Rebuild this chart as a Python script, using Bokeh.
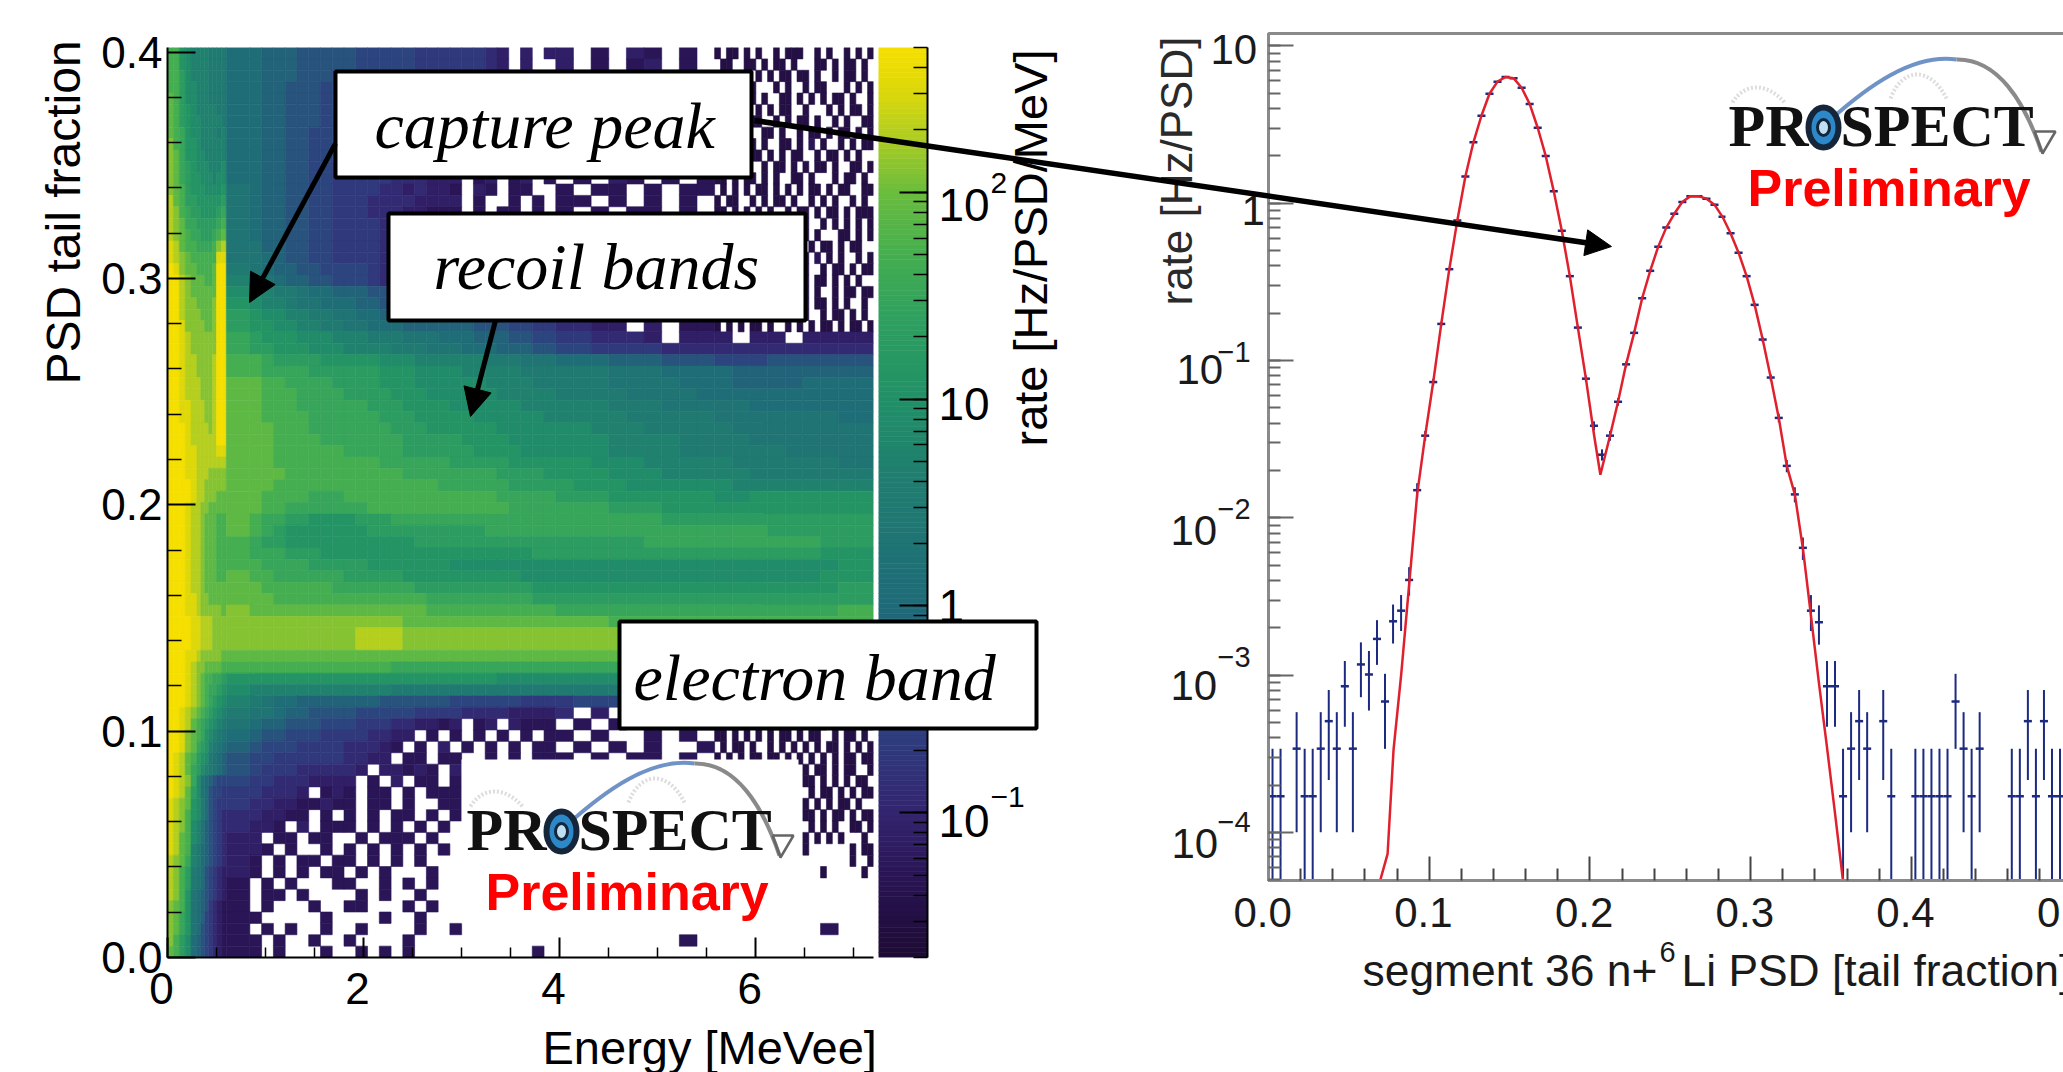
import math
from bokeh.embed import file_html
from bokeh.resources import INLINE
from bokeh.plotting import figure
from bokeh.models import (GridBox, ColumnDataSource, LogColorMapper, FixedTicker, LogTicker, Arrow,
                          NormalHead, NumeralTickFormatter, CustomJSTickFormatter)
from bokeh.core.properties import value

# ---------- heat map: levels, one row per PSD bin, top row first ----------
# '.' = empty bin; 0-9,a-m = colour level (log10 rate = -1.7 + 0.2*level)
energy_edges = [0.0, 0.06, 0.12, 0.18, 0.24, 0.30, 0.34, 0.38, 0.42, 0.46, 0.50, 0.55, 0.60,
                0.84, 0.96, 1.08, 1.20, 1.32, 1.44, 1.56, 1.68, 1.80,
                1.92, 2.04, 2.16, 2.28, 2.40, 2.52, 2.64, 2.76, 2.88,
                3.00, 3.12, 3.24, 3.36, 3.48, 3.60, 3.72, 3.84, 3.96,
                4.14, 4.32, 4.50, 4.68, 4.86, 5.04, 5.22, 5.40, 5.58,
                5.76, 5.94, 6.12, 6.30, 6.48, 6.66, 6.84, 7.02, 7.20]
psd_row_height = 0.005025
heat_rows = [
"hhedccccbbbb 998887777 766666555 55543.3.3 3.2.32.2. .2.22.2.2",
"hhedccccbbbb 998887777 766666555 55543.3.. 3.2.23.2. 2.2.2.2..",
"hhfdccccbbbb 998887776 666555555 444433322 22222222. .2.2.22.2",
"hhfddcccbbbb 998877766 666555555 444433322 22222222. 2.2..2.2.",
"ihfddcccbbbb 998877766 666555555 444433322 222222222 .22.2.2.2",
"ihfedcccccbb 998877766 666555555 444433322 22222222. 2..22.2.2",
"ihfeddcccccb 998877766 665555555 444433322 222222222 .2.2.2.22",
"ihgeddccccbc 998877666 665555555 444433322 22222222. 22.2.2..2",
"jhgeedcccccc 998877666 655555555 444433322 222222222 2.2.22.2.",
"jigeeddccccc 998877666 555555555 444433322 22222222. .22.2.2.2",
"jigfedddcccd 998877665 555555555 444433322 222222222 2.2.2.22.",
"jigfeedddcdd 998877665 555544433 3.23.23.2 .2.32.2.2 .22.2.2.2",
"jihfeeedddde a98877665 555443433 2.32.22.. 2.22.2.22 .2.22..2.",
"kihffeeeeeef a98877665 554444333 3.2..2.2. 22.2.2.2. 2.2.2.22.",
"kjhgffeeeefg a98877665 554443322 2.2.22.2. 2.2.22.2. .22.2.2.2",
"kjiggfffffgh a98877665 555443322 222222222 222222222 22.2.2.22",
"kjihggfffghi a98877665 555443322 222222222 222222222 2.22.2.2.",
"lkihhgggghjk aa8877665 555443322 222222222 222222222 .22.2.2.2",
"lkjihhhhhhll aa9877665 555443322 222222222 222222222 22.2.22..",
"mljiihhhhimm ba9887766 665443322 222222222 222222222 .2.22.2.2",
"mmkjiiihhimm cba988776 665443322 222222222 222222222 2.2.2.2.2",
"mmkjiiiiiimm dccbba998 887776665 222222222 222222222 22.2..22.",
"mmkjjiiiijmm edccbaa99 988777666 222222222 222222222 .2.22.2.2",
"mmkjjjiiijmm feddccbba a99887766 222222222 222222222 2.2.2.22.",
"mmljjjjiijmm feeddccbb aa9998888 887776655 4433.3.22 222222222",
"mmlkjjjjjjmm gfeeedddc ccbbbaaa9 998887766 554443.33 3.33.3333",
"mmlkjjjjjjmm gffeeeddd ccccbbbaa a99988877 665555444 444444444",
"mmlkkjjjjkmm hhgffffee eeedddccc cccbbbaaa 999888777 666777777",
"mmlkkjjjjkmm hhggggfff fffeeeddd dcccccbbb bbbaaa999 988888888",
"mmlkkkjjjkmm iihhggggf fffeeeddd dddccccbb bbbaaaa99 988889999",
"mmlkkkjjjkmm iihhhgggg ffffeeedd ddddccccc bbbbaaaa9 999999999",
"mmllkkkjjkmm iihhhgggg ggfffeeee ddddddccc cccbbbaaa aa9999999",
"mmllkkkjjkmm iihhhhggg gggfffeee eeddddddc ccccbbbbb aaaaaaa99",
"mmmlkkkkjkmm iiihhhggg ggggfffee eeeeddddd ddcccbbbb baaaaaaaa",
"mmmlkkkkkkmm iiihhhhgg gggggffff feeeedddd dddccccbb bbaaaaaaa",
"mmmllkkkkkll iiihhhhhh gggggffff ffeeeeddd dddccccbb bbbbaaaaa",
"mmmllkkkkkkk iiihhhhhh hhhgggggg fffffeeee eedddcccc cbbbbbbaa",
"mmmllkkkjjjj iiiihhhhh hhhhhgggg ggggffffe eeedddccc ccbbbbbbb",
"mmmmlkkjjjjj iiihhhhhh hhhhhhhhg gggggffff feeeddddd dcccccccc",
"mmmmlkkjjjii iihhhhggg hhhhhhhhh hhhhggggg fffeeeeee ddeeeeeee",
"mmmlkkjjiiii iihhggggg gghhhhhhh hhhhhgggg gggfffeee eeeeeeeee",
"mmmlkkjiiihh ihggffeee efffggggg ggggggggg ggggggfff fffffffff",
"mmmlkkjiiihh ihgfeeeee eefffffff fffgggggg ggggggggg gggffffff",
"mmmlkkjiiihh hgffeeeee eeeeeefff fffffffff fffffgggg ggggggfff",
"mmmlkkjiiihh hgggfffee eeeeeeeee eeeeeeeff fffffffff ffffffeee",
"mmmlkkjiiihh hhggggfff ffeeeeeee ddddddddd ddddddddd dddddddee",
"mmmlkkjiiihh ihhgggggg fffffeeee eeeeeeddd ddddddddd ddddddeee",
"mmmlkkjiiiii iihhhhhhg ggggggfff fffffffee eeeeeeeee eeeeeeeff",
"mmmllkjjiiii iiihhhhhh hhhhhhhgg gggggggff fffffffff fffffffff",
"mmmllkjjjjji jiiiiiiii iiiiiiihh hhhhhhhhh ggggggggg ggggggghh",
"mmmmllkkkjjj jjjjjjjjj jjjjjiiii iiiiiiiii iiihhhhhh hhhhhhhhh",
"mmmmllkkkjjj jjjjjjjjj jkkkkjjjj jjjjjjjjj jjjjjjjji iiiiiiiii",
"mmmmllkkkjjj jjjjjjjjj jkkkkjjjj jjjjjjjjj jjjjjjjjj jjjjjjjjj",
"mmmllkjjjjji iiiiiiiii iiiiiiiii iiiiiiiii iiiiiiiii iiiiiiiii",
"mmmlkjjiiiih hhhhhhhhh hhhhggggg ggggggggg ggggggggg ggggggggg",
"mmmlkjihhggf eeeeeeeee eeeeeeeee eeeeddddd ddddddddd ddddddddd",
"mmmlkjihggfe dcccccccc ccccbbbbb bbbbbbbbb bbbbbbbbb bbbbbbbbb",
"mmmlkjihgfed cba998888 888777777 666666555 566666666 666666666",
"mmlkjihgfedc baa988777 766666555 544443333 4.3.34334 4344443.3",
"mmlkihgfedcb a98877766 655544332 3.23.3222 .2.2.2.23 2.32.32.2",
"mmljihgedcba 987766655 554433.2. 2.2.2.2.2 2.2..2.2. 2.2.22.2.",
"mmljigfecba9 876665555 44432.2.3 .2.2.2.22 .2.2.2..2 .2.22.2..",
"mlkihfedba98 766555555 4433.22.2 2..2.2.22 2.2.22.2. 2.2.2.22.",
"mlkigfdcba98 765554444 43.33232. 3........ ......... ...22.2.2",
"mlkjgda98766 655444333 3.2.3.22. 2........ ......... ...2.22.2",
"mlkifda97665 554443.23 2.22.2.22 2........ ......... ...22.2.2",
"lkjiedb97655 544332232 2.22.2..2 2........ ......... ...2.22.2",
"lkjhedb97654 443322.2. 2.2.22.2. 2........ ......... ...2.2.22",
"lkjhdca87654 4332.3.22 2.2.2.2.2 ......... ......... ...2.2.22",
"lkihdca87654 33.22.22. .2.222.2. ......... ......... ...22.2..",
"lkihcb987654 332.2..2. 2.2.2.2.2 ......... ......... ...2...22",
"kjigcb987654 32.2.22.2 2.2.2.2.. ......... ......... ......2.2",
"kjhfba976543 32.2.2.22 .2.2...2. ......... ......... ......2..",
"kjhfba976543 2.2.2...2 2..2.2.2. ......... ......... ...2.....",
"kjhea9876543 2.22.2... .2.2..2.. ......... ......... .........",
"jihea9875432 2.2...2.. 22...2.2. ......... ......... .........",
"jigea9865432 22.....2. ...2..2.. ......... ......... .........",
"jigea9765432 2.2.2..2. .2....2.. 2........ ......... ......2..",
"jhfd98765432 22.2..2.. 2....2... ......... .......2. .........",
"ihfd98765432 22.2...2. .2.2.2... .......2. ......... .........",
]
# finer reading of the sparse corner at the upper right, 0.06 MeV bins from 5.58 to 7.20 MeV, rows as in heat_rows
upper_right_rows = [
"1.11.1.1..1.111..1.1..1.1.1",
".11..11.1.11.1...11.1.11.1.",
".1111..1.1.11.11.1..1.11.1.",
"1.1.1.1...1.1..1.11...1.1.1",
"11.1.11.1..11.1.1.1.11.1..1",
"1.1..1.1.1.11..1...1.1.11.1",
".11.1.11..1.1.11.1..1.1..11",
"1.11.1..11.1..1.11.1.11.1.1",
"11..1.1.1..11.1.2.1..1.1.11",
".1.11.11.1.1.11..1.11.1.1..",
"1.1.1...1.11.1.1.11.1..11.1",
"11.1.11.1.1..11.1...1.11.1.",
".1.1.1.11.1.1.1.11.1.11..11",
"1.11..1.1.11.1..1.1.1..1.1.",
"11.1.1.1.1..1.11.1.11.1.111",
"1.1.11.1..11.1.1..1.1.1.1.1",
".11.1..11.1.1.11.1...11.1.1",
"1.1.1.1.1.11.1..1.11.1.11..",
"1..11.1.11.1.1.1.2.1.1..1.1",
".11.1.11..1.1.11..1.11.1.11",
"11.1.1..1.11.1.1.11.1.1.1..",
"1.1.11.1.1.1..11.1..1.11.11",
"11.1..1.1.11.1.1.11.1.1..1.",
".1.11.1.1.1.11.1..1.11.1.1.",
"1.1.1.11.1..1.1.1.11.1.11.1",
]
# same for the sparse band below the electron band, rows 59 to 72 of heat_rows
lower_right_first_row = 59
lower_right_rows = [
"1.1.11.1.11.1.2.1.1.11.1.11",
"11.1.1.1.1.11.1.11..1.11.1.",
".1.11.1..1.1.1.1.1.11.1.1.1",
"1.1.1.11.11.1.1.1.1.1.11.11",
"...............1.11.1.11..1",
"...............11.1.1.1.11.",
"................1.11.1.1.11",
"...............1.1.1.11.1..",
"...............11.1.11.1.11",
"................1.1.1..11.1",
"...............1.1.1.1...1.",
"...............1.......1.11",
".......................1..1",
"..................1......1.",
]
level_digits = "0123456789abcdefghijklm"
cbar_low, cbar_high = 0.02, 500.0

# ---------- PSD projection: points ----------
psd_x = [0.0025, 0.0075, 0.0175, 0.0225, 0.0275, 0.0325, 0.0375, 0.0425, 0.0475, 0.0525, 0.0575, 0.0625, 0.0675,
         0.0725, 0.0775, 0.0825, 0.0875, 0.0925, 0.0975, 0.1025, 0.1075, 0.1125, 0.1175, 0.1225, 0.1275, 0.1325,
         0.1375, 0.1425, 0.1475, 0.1525, 0.1575, 0.1625, 0.1675, 0.1725, 0.1775, 0.1825, 0.1875, 0.1925, 0.1975,
         0.2025, 0.2075, 0.2125, 0.2175, 0.2225, 0.2275, 0.2325, 0.2375, 0.2425, 0.2475, 0.2525, 0.2575, 0.2625,
         0.2675, 0.2725, 0.2775, 0.2825, 0.2875, 0.2925, 0.2975, 0.3025, 0.3075, 0.3125, 0.3175, 0.3225, 0.3275,
         0.3325, 0.3375, 0.3425, 0.3475, 0.3525, 0.3575, 0.3625, 0.3675, 0.3725, 0.3825, 0.3875, 0.4025, 0.4075,
         0.4125, 0.4175, 0.4225, 0.4275, 0.4325, 0.4375, 0.4425, 0.4625, 0.4675, 0.4725, 0.4775, 0.4825, 0.4875,
         0.4925]
psd_rate = [0.00017, 0.00017, 0.000341, 0.00017, 0.00017, 0.000341, 0.00051, 0.000341, 0.00085, 0.000341, 0.00117,
            0.00101, 0.0017, 0.00068, 0.0022, 0.00257, 0.00403, 0.015, 0.0333, 0.073, 0.171, 0.381, 0.778, 1.48, 2.44,
            3.6, 4.97, 5.93, 6.35, 6.24, 5.42, 4.28, 3.02, 2.0, 1.19, 0.668, 0.344, 0.162, 0.0767, 0.0385, 0.0252,
            0.0333, 0.0547, 0.0946, 0.15, 0.249, 0.372, 0.53, 0.7, 0.857, 1.02, 1.11, 1.11, 1.07, 0.98, 0.82, 0.645,
            0.485, 0.344, 0.226, 0.136, 0.078, 0.0432, 0.0214, 0.0141, 0.00645, 0.00257, 0.00217, 0.00085, 0.00085,
            0.00017, 0.000341, 0.00051, 0.000341, 0.00051, 0.00017, 0.00017, 0.00017, 0.00017, 0.00017, 0.00017,
            0.00068, 0.000341, 0.00017, 0.000341, 0.00017, 0.00017, 0.00051, 0.00017, 0.00051, 0.00017, 0.00017]
rate_per_count = 0.00017
fit_x = [0.0696, 0.0741, 0.0778, 0.0826, 0.0881, 0.0925, 0.0975, 0.1025, 0.1075, 0.1125, 0.1175, 0.1225, 0.1275, 0.1325,
         0.1375, 0.1425, 0.1475, 0.1525, 0.1575, 0.1625, 0.1675, 0.1725, 0.1775, 0.1825, 0.1875, 0.1925, 0.1975, 0.2025,
         0.2065, 0.2125, 0.2175, 0.2225, 0.2275, 0.2325, 0.2375, 0.2425, 0.2475, 0.2525, 0.2575, 0.2625, 0.2675, 0.2725,
         0.2775, 0.2825, 0.2875, 0.2925, 0.2975, 0.3025, 0.3075, 0.3125, 0.3175, 0.3225, 0.3275, 0.3326, 0.3374, 0.3425,
         0.3474, 0.3526, 0.3574]
fit_rate = [5e-05, 7.3e-05, 0.000335, 0.00102, 0.0044, 0.0141, 0.0333, 0.073, 0.171, 0.381, 0.778, 1.48, 2.44, 3.6,
            4.97, 5.93, 6.35, 6.24, 5.42, 4.28, 3.02, 2.0, 1.19, 0.668, 0.344, 0.162, 0.0767, 0.034, 0.0188, 0.0333,
            0.0547, 0.0946, 0.15, 0.249, 0.372, 0.53, 0.7, 0.857, 1.02, 1.11, 1.11, 1.07, 0.98, 0.82, 0.645, 0.485,
            0.344, 0.226, 0.136, 0.078, 0.0432, 0.0214, 0.0141, 0.0063, 0.00245, 0.00089, 0.000355, 0.00013, 5e-05]

energy_ticks = [0, 2, 4, 6]
energy_minor = [0.5, 1, 1.5, 2.5, 3, 3.5, 4.5, 5, 5.5, 6.5, 7]
psd_ticks = [0.0, 0.1, 0.2, 0.3, 0.4]
psd_minor = [0.02, 0.04, 0.06, 0.08, 0.12, 0.14, 0.16, 0.18, 0.22, 0.24, 0.26, 0.28, 0.32, 0.34, 0.36, 0.38]
proj_ticks = [0.0, 0.1, 0.2, 0.3, 0.4, 0.5]
proj_minor = [0.02, 0.04, 0.06, 0.08, 0.12, 0.14, 0.16, 0.18, 0.22, 0.24, 0.26, 0.28, 0.32, 0.34, 0.36, 0.38,
              0.42, 0.44, 0.46, 0.48]
palette_stops = [(-1.7, "#1E0B33"), (-1.3, "#2A1556"), (-1.0, "#33256F"), (-0.6, "#2E3F80"), (-0.3, "#27537C"),
                 (0.0, "#1F6B78"), (0.6, "#207D70"), (1.0, "#219067"), (1.4, "#2FA05F"), (1.7, "#45AE50"),
                 (2.0, "#69BC3E"), (2.3, "#B5CF1E"), (2.5, "#DDD80A"), (2.7, "#F5DF00")]
annotation_texts = ["capture peak", "recoil bands", "electron band"]
# log-axis labels: mantissa, exponent
colorbar_labels = [("10", "2"), ("10", ""), ("1", ""), ("10", "\u22121")]
projection_labels = [("10", ""), ("1", ""), ("10", "\u22121"), ("10", "\u22122"), ("10", "\u22123"), ("10", "\u22124")]

SANS = "Liberation Sans"
SERIF = "Liberation Serif"
TICK_SIZE = "44px"
BASELINE_FIX = 0.32  # share of the font size between the requested and the drawn baseline
NUDGE = "\u00a0"  # trailing no-break space: the original's tick labels sit a little left of their ticks


def hex_rgb(h):
    return [int(h[i:i + 2], 16) for i in (1, 3, 5)]


def palette_colour(lg):
    for (a_, ca), (b_, cb) in zip(palette_stops, palette_stops[1:]):
        if lg <= b_:
            t = (lg - a_) / (b_ - a_)
            ra, rb = hex_rgb(ca), hex_rgb(cb)
            return "#%02x%02x%02x" % tuple(round(u + (v - u) * t) for u, v in zip(ra, rb))
    return palette_stops[-1][1]


lmin, lmax = math.log10(cbar_low), math.log10(cbar_high)
palette = [palette_colour(lmin + (lmax - lmin) * i / 255) for i in range(256)]
mapper = LogColorMapper(palette=palette, low=cbar_low, high=cbar_high)
mapped = {"field": "rate", "transform": mapper}

cells = dict(left=[], right=[], top=[], bottom=[], rate=[])


def add_cell(x0, x1, top, ch):
    if ch == ".":
        return
    cells["left"].append(x0)
    cells["right"].append(x1)
    cells["top"].append(top)
    cells["bottom"].append(top - psd_row_height)
    cells["rate"].append(10 ** (-1.7 + 0.2 * level_digits.index(ch)))


fine_corner_start = 5.58
fine_corner_step = 0.06
n_coarse = len(energy_edges) - 1
for r, row in enumerate(heat_rows):
    row = row.replace(" ", "")
    top = 0.402 - r * psd_row_height
    fine = None
    if r < len(upper_right_rows):
        fine = upper_right_rows[r]
    elif lower_right_first_row <= r < lower_right_first_row + len(lower_right_rows):
        fine = lower_right_rows[r - lower_right_first_row]
    for col, ch in enumerate(row[:n_coarse]):
        if fine is not None and energy_edges[col] >= fine_corner_start - 1e-9:
            continue
        add_cell(energy_edges[col], energy_edges[col + 1], top, ch)
    if fine is not None:
        for k, ch in enumerate(fine):
            add_cell(fine_corner_start + k * fine_corner_step, fine_corner_start + (k + 1) * fine_corner_step, top, ch)


def common(p):
    p.background_fill_color = None
    p.border_fill_color = None
    p.outline_line_color = None
    p.grid.visible = False
    p.frame_align = False


def style_axis(ax, tick_color="black", line_color="black", tick_size=TICK_SIZE, text_color="black"):
    ax.major_label_text_font = SANS
    ax.major_label_text_font_size = tick_size
    ax.major_label_text_color = text_color
    ax.axis_line_color = line_color
    ax.major_tick_line_color = tick_color
    ax.minor_tick_line_color = tick_color
    ax.major_tick_out = 0
    ax.minor_tick_out = 0


blank_labels = CustomJSTickFormatter(code="return '';")

# ---------- left: heat map ----------
a = figure(output_backend="svg", toolbar_location=None, x_range=(0, 7.2), y_range=(0, 0.402),
           frame_width=706, frame_height=910, min_border_left=167, min_border_top=47,
           min_border_right=20, min_border_bottom=115, margin=(0, 0, 0, 0))
common(a)
a.quad(left="left", right="right", top="top", bottom="bottom", source=ColumnDataSource(cells),
       fill_color=mapped, line_color=mapped, line_width=0.6)
style_axis(a.xaxis[0])
style_axis(a.yaxis[0])
a.axis.axis_line_width = 2
a.axis.major_tick_line_width = 2
a.axis.minor_tick_line_width = 1.5
a.xaxis[0].ticker = FixedTicker(ticks=energy_ticks, minor_ticks=energy_minor)
a.xaxis[0].major_label_overrides = {t: f"{t}{NUDGE}" for t in energy_ticks}
a.yaxis[0].ticker = FixedTicker(ticks=psd_ticks, minor_ticks=psd_minor)
a.yaxis[0].formatter = NumeralTickFormatter(format="0.0")
a.xaxis[0].major_tick_in = 20
a.xaxis[0].minor_tick_in = 10
a.yaxis[0].major_tick_in = 28
a.yaxis[0].minor_tick_in = 14
a.xaxis[0].major_label_standoff = 6
a.yaxis[0].major_label_standoff = 5

# ---------- colour bar ----------
c = figure(output_backend="svg", toolbar_location=None, x_range=(0, 1), y_range=(cbar_low, cbar_high), y_axis_type="log",
           y_axis_location="right", x_axis_type=None, frame_width=49, frame_height=910, min_border_left=0,
           min_border_top=47, min_border_right=20, min_border_bottom=115, margin=(0, 0, 0, 878))
common(c)
n_steps = 180
bar_edges = [10 ** (lmin + (lmax - lmin) * i / n_steps) for i in range(n_steps + 1)]
bar_mid = [10 ** (lmin + (lmax - lmin) * (i + 0.5) / n_steps) for i in range(n_steps)]
c.quad(left=0, right=1, bottom="bottom", top="top",
       source=ColumnDataSource(dict(bottom=bar_edges[:-1], top=bar_edges[1:], rate=bar_mid)),
       fill_color=mapped, line_color=mapped, line_width=0.6)
cax = c.yaxis[0]
style_axis(cax)
cax.axis_line_width = 2
cax.major_tick_line_width = 2
cax.minor_tick_line_width = 1.5
cax.ticker = LogTicker(num_minor_ticks=10)
cax.major_tick_in = 28
cax.minor_tick_in = 14
cax.formatter = blank_labels

# ---------- right: PSD projection ----------
b = figure(output_backend="svg", toolbar_location=None, x_range=(0, 0.56), y_range=(4.95e-5, 12.0), y_axis_type="log",
           frame_width=900, frame_height=847, min_border_left=158, min_border_top=33, min_border_right=0,
           min_border_bottom=150, margin=(0, 0, 0, 1110))
common(b)
b.outline_line_color = "#8a8a8a"
b.outline_line_width = 3
lows, highs, lefts, rights = [], [], [], []
for x, r in zip(psd_x, psd_rate):
    err = math.sqrt(r * rate_per_count)
    lows.append(max(r - err, 1e-6))
    highs.append(r + err)
    lefts.append(x - 0.0025)
    rights.append(x + 0.0025)
b.segment(x0=psd_x, x1=psd_x, y0=lows, y1=highs, line_color="#1c2a80", line_width=2)
b.segment(x0=lefts, x1=rights, y0=psd_rate, y1=psd_rate, line_color="#1c2a80", line_width=2.5)
b.line(x=fit_x, y=fit_rate, line_color="#e0202c", line_width=2.5)
style_axis(b.xaxis[0], tick_color="#444444", line_color="#8a8a8a", tick_size="42px", text_color="#1a1a1a")
style_axis(b.yaxis[0], tick_color="#666666", line_color="#8a8a8a", tick_size="42px", text_color="#1a1a1a")
b.axis.axis_line_width = 3
b.axis.major_tick_line_width = 2
b.axis.minor_tick_line_width = 2
b.xaxis[0].ticker = FixedTicker(ticks=proj_ticks, minor_ticks=proj_minor)
b.xaxis[0].formatter = NumeralTickFormatter(format="0.0")
b.xaxis[0].major_label_overrides = {t: f"{t:.1f}{NUDGE}" for t in proj_ticks}
b.xaxis[0].major_tick_in = 24
b.xaxis[0].minor_tick_in = 12
b.xaxis[0].major_label_standoff = 8
b.yaxis[0].ticker = LogTicker(num_minor_ticks=10)
b.yaxis[0].formatter = blank_labels
b.yaxis[0].major_tick_in = 25
b.yaxis[0].minor_tick_in = 12

# ---------- overlay: page-pixel layer for titles, boxes, arrows, logos ----------
o = figure(output_backend="svg", toolbar_location=None, x_range=(0, 2063), y_range=(1072, 0), x_axis_type=None,
           y_axis_type=None, width=2063, height=1072, min_border=0, margin=(0, 0, 0, 0))
common(o)


def put(x, y, text, size, font=SANS, style="normal", color="black", angle=0.0):
    """Write text with its left end at x and its baseline at y (or, turned upward, baseline at x and start at y)."""
    shift = BASELINE_FIX * size
    if angle:
        x = x - shift
    else:
        y = y - shift
    o.text(x=[x], y=[y], text=[text], text_font=value(font), text_font_style=style, text_font_size=f"{size}px",
           text_baseline="alphabetic", text_color=color, angle=angle)


UP = math.pi / 2
put(78, 384, "PSD tail fraction", 48, angle=UP)
put(542, 1062, "Energy [MeVee]", 47)
put(1045, 446, "rate [Hz/PSD/MeV]", 47, angle=UP)
put(1190, 305, "rate [Hz/PSD]", 44, color="#2a2a2a", angle=UP)
put(1362, 984, "segment 36 n+", 44.4, color="#1a1a1a")
put(1659, 961, "6", 29, color="#1a1a1a")
put(1681, 984, "Li PSD [tail fraction]", 44.4, color="#1a1a1a")

# hand-placed log labels of the colour bar and of the projection
for (mant, exp_), mx, my, ex, ey in zip(colorbar_labels, [938, 938, 938, 938], [219, 418, 620, 835],
                                        [990, 0, 0, 990], [192, 0, 0, 806]):
    put(mx, my, mant, 46)
    if exp_:
        put(ex, ey, exp_, 30)
for (mant, exp_), mx, my, ex, ey in zip(projection_labels, [1210, 1241, 1176, 1170, 1170, 1171],
                                        [62, 223, 382, 543, 698, 856],
                                        [0, 0, 1217, 1217, 1217, 1217], [0, 0, 361, 518, 666, 831]):
    put(mx, my, mant, 42, color="#1a1a1a")
    if exp_:
        put(ex, ey, exp_, 29, color="#1a1a1a")

# white backing of the pasted logos
o.quad(left=[461, 1725], right=[798, 2045], top=[759, 58], bottom=[923, 218], fill_color="white", line_color=None)


def logo(dx, dy):
    o.bezier(x0=[470 + dx, 628 + dx], y0=[806 + dy, 802 + dy], x1=[522 + dx, 684 + dx], y1=[806 + dy, 802 + dy],
             cx0=[482 + dx, 640 + dx], cy0=[786 + dy, 770 + dy], cx1=[505 + dx, 668 + dx], cy1=[786 + dy, 770 + dy],
             line_color="#dddddd", line_width=4, line_dash="2 2")
    o.bezier(x0=[567 + dx], y0=[824 + dy], x1=[694 + dx], y1=[763 + dy], cx0=[605 + dx], cy0=[790 + dy],
             cx1=[650 + dx], cy1=[757 + dy], line_color="#6f93c6", line_width=4)
    o.bezier(x0=[694 + dx], y0=[763 + dy], x1=[779 + dx], y1=[855 + dy], cx0=[735 + dx], cy0=[762 + dy],
             cx1=[762 + dx], cy1=[805 + dy], line_color="#8a8a8a", line_width=4)
    o.line(x=[772 + dx, 793 + dx, 780 + dx, 772 + dx], y=[835 + dy, 835 + dy, 857 + dy, 835 + dy],
           line_color="#666666", line_width=2.5)
    put(466 + dx, 849 + dy, "PR", 60, font=SERIF, style="bold", color="#111111")
    put(578 + dx, 849 + dy, "SPECT", 60, font=SERIF, style="bold", color="#111111")
    o.ellipse(x=[561 + dx], y=[831 + dy], width=[30], height=[40], fill_color="#2c88c8", line_color="#16263a",
              line_width=6)
    o.ellipse(x=[561 + dx], y=[831 + dy], width=[12], height=[16], fill_color="#bfe0f2", line_color="#16263a",
              line_width=3)
    put(485 + dx, 908 + dy, "Preliminary", 52, style="bold", color="#ff0000")


logo(0, 0)
logo(1262, -704)

# annotation boxes
o.quad(left=[335, 388, 619], right=[751, 805, 1036], top=[71, 213, 621], bottom=[177, 320, 728], fill_color="white",
       line_color="black", line_width=4)
for tx, ty, label in zip([374, 433, 633], [146, 287, 698], annotation_texts):
    put(tx, ty, label, 66, font=SERIF, style="italic")
for x_start, y_start, x_end, y_end, size, width in [(335, 143, 249, 302, 28, 5), (495, 320, 470, 416, 28, 5),
                                                    (754, 120, 1611, 246, 26, 5.5)]:
    o.add_layout(Arrow(end=NormalHead(size=size, fill_color="black", line_color="black"), x_start=x_start,
                       y_start=y_start, x_end=x_end, y_end=y_end, line_color="black", line_width=width))

root = GridBox(children=[(a, 0, 0), (c, 0, 0), (b, 0, 0), (o, 0, 0)], width=2063, height=1072,
               styles={"overflow": "hidden"})
open("out.html", "w").write(file_html(root, INLINE))
